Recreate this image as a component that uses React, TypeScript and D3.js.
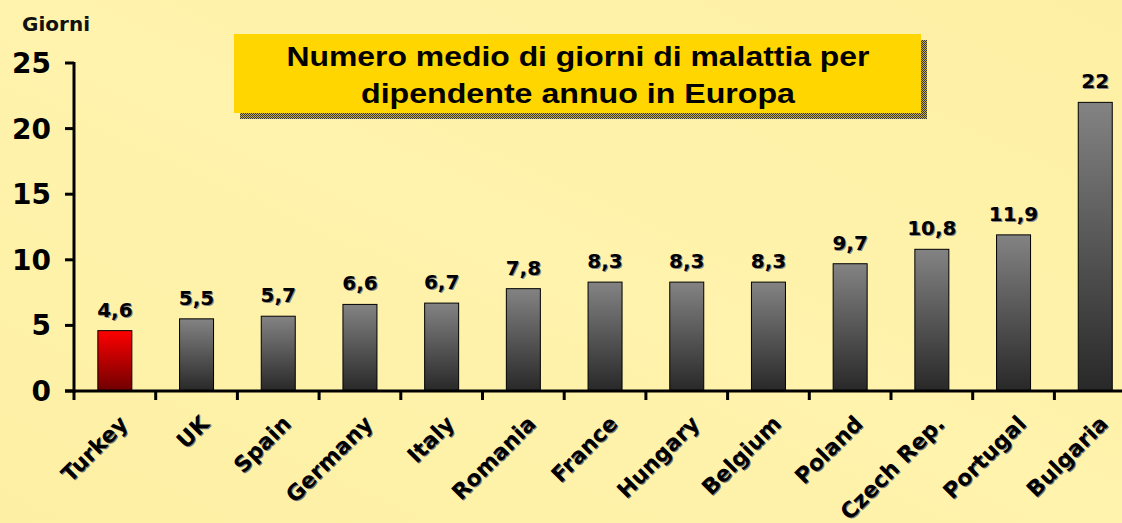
import React, { useEffect, useRef } from "react";
import * as d3 from "d3";

const categories = ["Turkey", "UK", "Spain", "Germany", "Italy", "Romania", "France", "Hungary", "Belgium", "Poland", "Czech Rep.", "Portugal", "Bulgaria"];
const values = [4.6, 5.5, 5.7, 6.6, 6.7, 7.8, 8.3, 8.3, 8.3, 9.7, 10.8, 11.9, 22];
const valueLabels = ["4,6", "5,5", "5,7", "6,6", "6,7", "7,8", "8,3", "8,3", "8,3", "9,7", "10,8", "11,9", "22"];
const yTicks = [0, 5, 10, 15, 20, 25];
const titleLines = ["Numero medio di giorni di malattia per", "dipendente annuo in Europa"];

const W = 1122;
const H = 523;

const App = () => {
  const ref = useRef<SVGSVGElement | null>(null);

  useEffect(() => {
    if (!ref.current) return;
    const svg = d3.select(ref.current);
    svg.selectAll("*").remove();
    const font = "'DejaVu Sans', Verdana, sans-serif";

    const defs = svg.append("defs");
    const bg = defs.append("linearGradient").attr("id", "bg").attr("x1", "0").attr("y1", "1").attr("x2", "1").attr("y2", "0");
    bg.append("stop").attr("offset", "0").attr("stop-color", "#fdf0a4");
    bg.append("stop").attr("offset", "0.5").attr("stop-color", "#fff3ad");
    bg.append("stop").attr("offset", "1").attr("stop-color", "#fdf0a4");
    const grey = defs.append("linearGradient").attr("id", "grey").attr("x1", "0").attr("y1", "0").attr("x2", "0").attr("y2", "1");
    grey.append("stop").attr("offset", "0").attr("stop-color", "#838383");
    grey.append("stop").attr("offset", "1").attr("stop-color", "#282828");
    const red = defs.append("linearGradient").attr("id", "red").attr("x1", "0").attr("y1", "0").attr("x2", "0").attr("y2", "1");
    red.append("stop").attr("offset", "0").attr("stop-color", "#ff0000");
    red.append("stop").attr("offset", "1").attr("stop-color", "#6e0000");
    const pat = defs.append("pattern").attr("id", "dither").attr("width", 2).attr("height", 2).attr("patternUnits", "userSpaceOnUse");
    pat.append("rect").attr("width", 2).attr("height", 2).attr("fill", "#c8b040");
    pat.append("rect").attr("width", 1).attr("height", 1).attr("fill", "#333");
    pat.append("rect").attr("x", 1).attr("y", 1).attr("width", 1).attr("height", 1).attr("fill", "#333");

    svg.append("rect").attr("width", W).attr("height", H).attr("fill", "url(#bg)");

    const x0 = 74;
    const y = d3.scaleLinear().domain([0, 25]).range([391, 63]);
    const x = d3.scaleBand().domain(categories).range([x0, x0 + 13 * 81.7]).paddingInner(0).paddingOuter(0);
    const barW = 34;

    // title box
    svg.append("rect").attr("x", 240).attr("y", 40).attr("width", 687).attr("height", 79).attr("fill", "url(#dither)");
    svg.append("rect").attr("x", 234).attr("y", 34).attr("width", 687).attr("height", 79).attr("fill", "#ffd600");
    titleLines.forEach((t, i) => {
      svg.append("text")
        .attr("x", 578).attr("y", 66 + i * 37)
        .attr("text-anchor", "middle")
        .attr("font-family", "'Liberation Sans', Arial, sans-serif")
        .attr("font-weight", "bold").attr("font-size", 28)
        .attr("textLength", i === 0 ? 583 : 434).attr("lengthAdjust", "spacingAndGlyphs")
        .attr("fill", "#000").text(t);
    });

    svg.append("text").attr("x", 22).attr("y", 31).attr("font-family", font).attr("font-weight", "bold")
      .attr("font-size", 19).attr("textLength", 68).attr("lengthAdjust", "spacingAndGlyphs")
      .attr("fill", "#111").text("Giorni");

    // y axis
    const g = svg.append("g");
    g.append("line").attr("x1", x0).attr("x2", x0).attr("y1", y(25) - 1).attr("y2", y(0) + 2)
      .attr("stroke", "#000").attr("stroke-width", 3);
    yTicks.forEach((v) => {
      g.append("line").attr("x1", 65).attr("x2", x0).attr("y1", y(v)).attr("y2", y(v)).attr("stroke", "#000").attr("stroke-width", 3);
      g.append("text").attr("x", 51).attr("y", y(v)).attr("dy", "0.36em").attr("text-anchor", "end")
        .attr("font-family", font).attr("font-weight", "bold").attr("font-size", 28).attr("fill", "#000").text(v);
    });

    // bars
    categories.forEach((c, i) => {
      const cx = (x(c) as number) + x.bandwidth() / 2;
      g.append("rect").attr("x", cx - barW / 2).attr("y", y(values[i])).attr("width", barW)
        .attr("height", y(0) - y(values[i])).attr("fill", i === 0 ? "url(#red)" : "url(#grey)")
        .attr("stroke", "#000").attr("stroke-width", 1);
      [["#888", 1], ["#000", 0]].forEach(([col, o]) => {
        g.append("text").attr("x", cx + (o as number)).attr("y", y(values[i]) - 14 + (o as number))
          .attr("text-anchor", "middle").attr("font-family", font).attr("font-weight", "bold")
          .attr("font-size", 20).attr("fill", col as string).text(valueLabels[i]);
      });
      [["#777", 1], ["#000", 0]].forEach(([col, o]) => {
        g.append("text")
          .attr("transform", `translate(${cx + 14 + (o as number)},${425 + (o as number)}) rotate(-45)`)
          .attr("text-anchor", "end").attr("font-family", font).attr("font-weight", "bold")
          .attr("font-size", 22).attr("fill", col as string).text(c);
      });
    });

    // x axis
    g.append("line").attr("x1", x0 - 9).attr("x2", W).attr("y1", y(0)).attr("y2", y(0)).attr("stroke", "#000").attr("stroke-width", 3);
    categories.forEach((c) => {
      g.append("line").attr("x1", x(c) as number).attr("x2", x(c) as number).attr("y1", y(0)).attr("y2", y(0) + 9)
        .attr("stroke", "#000").attr("stroke-width", 3);
    });
  }, []);

  return (
    <svg ref={ref} width={W} height={H} style={{ position: "absolute", left: 0, top: 0 }} />
  );
};

export default App;
